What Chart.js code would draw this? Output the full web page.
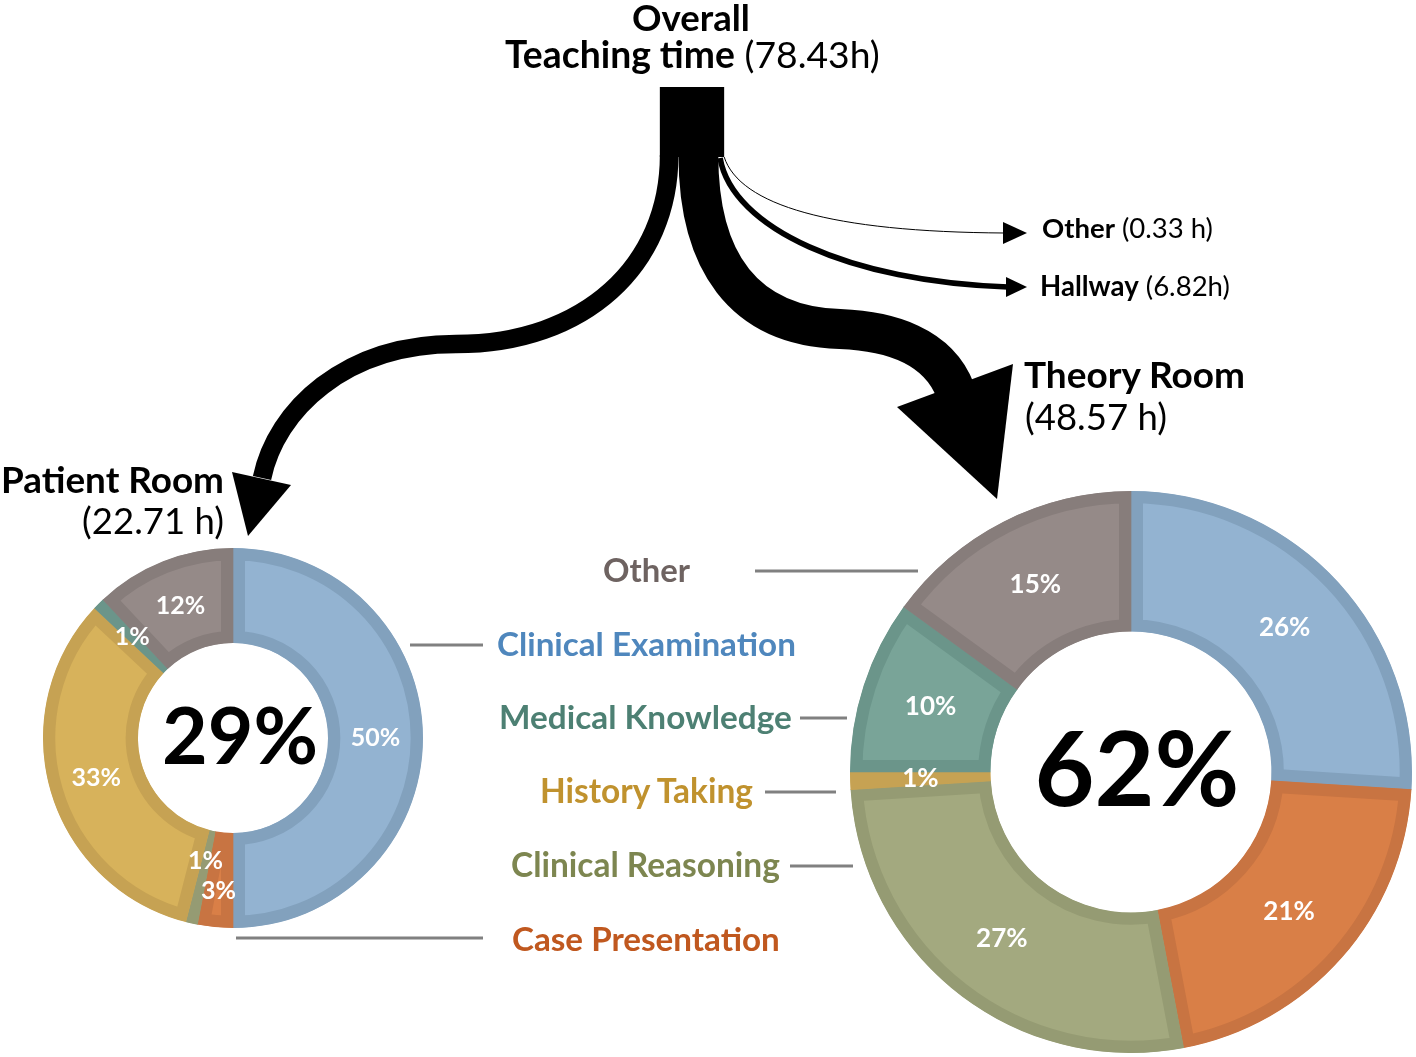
<!DOCTYPE html>
<html>
<head>
<meta charset="utf-8">
<script src="https://cdn.jsdelivr.net/npm/chart.js@4.4.0/dist/chart.umd.min.js"></script>
<style>
  html, body { margin: 0; padding: 0; background: #fff; }
  #stage { position: relative; width: 1416px; height: 1057px; overflow: hidden; background: #fff; font-family: Lato, "Open Sans", sans-serif; }
  .t { position: absolute; white-space: nowrap; line-height: 1; color: #000; }
  .b { font-weight: 700; }
  .r { font-weight: 400; }
  canvas { position: absolute; }
</style>
</head>
<body>
<div id="stage">
  <canvas id="flow" width="1416" height="1057" style="left:0;top:0"></canvas>
  <canvas id="patientChart" width="400" height="400" style="left:33px;top:538px"></canvas>
  <canvas id="theoryChart" width="570" height="570" style="left:846px;top:487px"></canvas>
</div>
<script>
// ---------------- data ----------------
const categories = ['Clinical Examination', 'Case Presentation', 'Clinical Reasoning', 'History Taking', 'Medical Knowledge', 'Other'];
const patientRoomShare = [50, 3, 1, 33, 1, 12];   // % of patient-room teaching time
const theoryRoomShare  = [26, 21, 27, 1, 10, 15]; // % of theory-room teaching time
const locations     = ['Patient Room', 'Theory Room', 'Hallway', 'Other'];
const locationHours = [22.71, 48.57, 6.82, 0.33];
const locationUnitGap = [' ', ' ', '', ' '];
const overallHours  = 78.43;
const locationShareOfTotal = [29, 62]; // Patient Room, Theory Room

// ---------------- styles ----------------
const fillColors   = ['#93B3D1', '#D97F47', '#A3A97F', '#D7B25B', '#79A498', '#958A88'];
const borderColors = ['#82A1BD', '#C87442', '#959B73', '#C6A253', '#6B958A', '#877D7B'];
const textColors   = ['#4F87BD', '#C0581F', '#7D8650', '#C0922E', '#4D8073', '#6E6361'];

const stage = document.getElementById('stage');

// slice percentage labels
const sliceLabels = {
  id: 'sliceLabels',
  afterDatasetsDraw(chart, args, opts) {
    const ctx = chart.ctx;
    const meta = chart.getDatasetMeta(0);
    const data = chart.data.datasets[0].data;
    ctx.save();
    ctx.fillStyle = '#ffffff';
    ctx.font = 'bold ' + opts.size + 'px Lato, "Open Sans", sans-serif';
    ctx.textAlign = 'center';
    ctx.textBaseline = 'middle';
    meta.data.forEach((arc, i) => {
      const p = arc.getProps(['x', 'y', 'startAngle', 'endAngle', 'innerRadius', 'outerRadius'], true);
      const mid = (p.startAngle + p.endAngle) / 2;
      const f = (opts.radial && opts.radial[i] != null) ? opts.radial[i] : 0.5;
      const r = p.innerRadius + (p.outerRadius - p.innerRadius) * f;
      ctx.fillText(data[i] + '%', p.x + Math.cos(mid) * r, p.y + Math.sin(mid) * r);
    });
    ctx.restore();
  }
};

function makeDonut(id, values, radius, border, labelSize, radial) {
  return new Chart(document.getElementById(id), {
    type: 'doughnut',
    data: {
      labels: categories,
      datasets: [{
        data: values,
        backgroundColor: fillColors,
        borderColor: borderColors,
        borderWidth: border,
        borderAlign: 'inner',
        borderJoinStyle: 'miter'
      }]
    },
    options: {
      responsive: false,
      animation: false,
      events: [],
      radius: radius,
      cutout: '50%',
      layout: { padding: 0 },
      plugins: {
        legend: { display: false },
        tooltip: { enabled: false },
        sliceLabels: { size: labelSize, radial: radial }
      }
    },
    plugins: [sliceLabels]
  });
}

makeDonut('patientChart', patientRoomShare, 190, 12, 25, [0.5, 0.62, 0.33, 0.5, 0.5, 0.5]);
makeDonut('theoryChart', theoryRoomShare, 281, 12, 26, null);

// ---------------- flow arrows ----------------
(function drawFlow() {
  const c = document.getElementById('flow').getContext('2d');
  const k = 0.82; // px per hour
  const wTot = overallHours * k;
  const x0 = 692 - wTot / 2;
  c.fillStyle = '#000';
  c.strokeStyle = '#000';
  c.fillRect(x0, 87, wTot, 70);

  const wP = locationHours[0] * k, wT = locationHours[1] * k, wH = locationHours[2] * k, wO = Math.max(1, locationHours[3] * k);
  const xP = x0 + wP / 2, xT = x0 + wP + wT / 2, xH = x0 + wP + wT + wH / 2 - 1, xO = x0 + wTot;

  c.lineCap = 'butt';
  // Patient room
  c.lineWidth = wP;
  c.beginPath();
  c.moveTo(xP, 155);
  c.bezierCurveTo(xP, 265, 585, 344, 456, 344);
  c.bezierCurveTo(345, 344, 276, 410, 262, 478);
  c.stroke();
  c.beginPath();
  c.moveTo(232, 472); c.lineTo(291, 485); c.lineTo(248, 536); c.closePath(); c.fill();

  // Theory room
  c.lineWidth = wT;
  c.beginPath();
  c.moveTo(xT, 155);
  c.bezierCurveTo(xT, 260, 742, 326, 840, 329);
  c.bezierCurveTo(890, 331, 938, 346, 955, 390);
  c.stroke();
  c.beginPath();
  c.moveTo(897, 407); c.lineTo(1013, 364); c.lineTo(997, 499); c.closePath(); c.fill();

  // Hallway
  c.lineWidth = wH;
  c.beginPath();
  c.moveTo(xH, 158);
  c.bezierCurveTo(732, 228, 850, 282, 1008, 287);
  c.stroke();
  c.beginPath();
  c.moveTo(1006, 277); c.lineTo(1027, 287); c.lineTo(1006, 297); c.closePath(); c.fill();

  // Other
  c.lineWidth = wO;
  c.beginPath();
  c.moveTo(xO, 157);
  c.bezierCurveTo(740, 205, 830, 232, 1005, 233);
  c.stroke();
  c.beginPath();
  c.moveTo(1003, 222); c.lineTo(1027, 233); c.lineTo(1003, 244); c.closePath(); c.fill();

  // leader lines
  c.strokeStyle = '#808080';
  c.lineWidth = 3;
  const leaders = [[755, 918, 571], [410, 483, 645], [800, 847, 718], [765, 836, 792], [790, 853, 866], [236, 483, 938]];
  leaders.forEach(l => { c.beginPath(); c.moveTo(l[0], l[2]); c.lineTo(l[1], l[2]); c.stroke(); });
})();

// ---------------- text ----------------
function put(html, x, cy, targetW, align, color, cls) {
  const el = document.createElement('div');
  el.className = 't ' + (cls || '');
  el.innerHTML = html;
  el.style.color = color || '#000';
  const base = 40;
  el.style.fontSize = base + 'px';
  el.style.left = '0px';
  el.style.top = '0px';
  stage.appendChild(el);
  const w0 = el.getBoundingClientRect().width;
  const fs = base * targetW / w0;
  el.style.fontSize = fs.toFixed(2) + 'px';
  const w = el.getBoundingClientRect().width;
  let left = x;
  if (align === 'center') left = x - w / 2;
  if (align === 'right') left = x - w;
  el.style.left = left + 'px';
  el.style.top = (cy - 0.53 * fs) + 'px';
  return el;
}
const hrs = i => '(' + locationHours[i].toFixed(2) + locationUnitGap[i] + 'h)';

put('Overall', 691, 18, 118, 'center', '#000', 'b');
put('<span class="b">Teaching time</span> <span class="r">(' + overallHours.toFixed(2) + 'h)</span>', 505, 55, 375, 'left', '#000', 'r');
put('<span class="b">' + locations[3] + '</span> <span class="r">' + hrs(3) + '</span>', 1042, 229, 171, 'left', '#000', 'r');
put('<span class="b">' + locations[2] + '</span> <span class="r">' + hrs(2) + '</span>', 1040, 287, 190, 'left', '#000', 'r');
put(locations[1], 1024, 376, 221, 'left', '#000', 'b');
put(hrs(1), 1025, 417, 142, 'left', '#000', 'r');
put(locations[0], 1, 481, 223, 'left', '#000', 'b');
put(hrs(0), 224, 521, 142, 'right', '#000', 'r');

// category labels (legend)
const legendPos = { 'Other': [603, 571, 87], 'Clinical Examination': [497, 645, 299], 'Medical Knowledge': [499, 718, 293],
                    'History Taking': [540, 792, 213], 'Clinical Reasoning': [511, 866, 269], 'Case Presentation': [512, 940, 268] };
categories.forEach((cat, i) => {
  const p = legendPos[cat];
  put(cat, p[0], p[1], p[2], 'left', textColors[i], 'b');
});

// centre labels
put(locationShareOfTotal[0] + '%', 240, 737, 156, 'center', '#000', 'b');
put(locationShareOfTotal[1] + '%', 1137, 770, 205, 'center', '#000', 'b');
</script>
</body>
</html>
